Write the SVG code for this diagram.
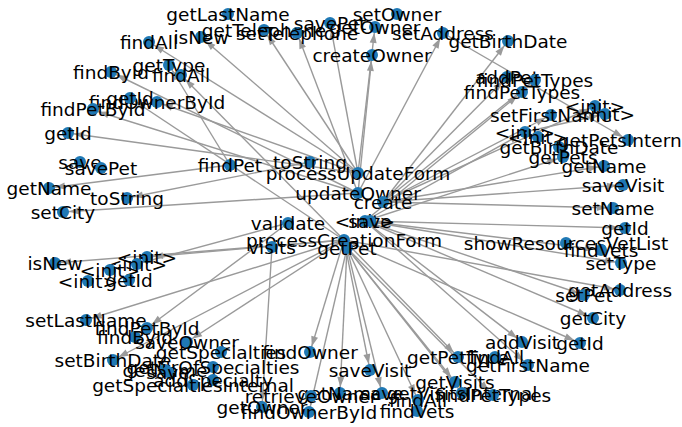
<svg xmlns="http://www.w3.org/2000/svg" width="682" height="427" viewBox="0 0 682 427">
<style>
.e line{stroke:#9a9a9a;stroke-width:1.4;marker-end:url(#ah)}
circle{fill:#1f78b4}
text{font-family:"DejaVu Sans",sans-serif;font-size:18.5px;fill:#000;text-anchor:middle;dominant-baseline:central}
</style>
<defs>
<marker id="ah" markerUnits="userSpaceOnUse" markerWidth="18" markerHeight="8" refX="16" refY="3.5" orient="auto" overflow="visible">
<path d="M0,0 L10,3.5 L0,7 z" fill="#9a9a9a"/>
</marker>
</defs>
<g id="edges" class="e">
<line x1="358" y1="173" x2="201" y2="37"/>
<line x1="358" y1="173" x2="264" y2="30"/>
<line x1="358" y1="173" x2="330" y2="23"/>
<line x1="358" y1="173" x2="375" y2="27"/>
<line x1="358" y1="173" x2="149" y2="42"/>
<line x1="358" y1="173" x2="157" y2="102"/>
<line x1="358" y1="173" x2="68" y2="133"/>
<line x1="358" y1="193" x2="297" y2="33"/>
<line x1="358" y1="193" x2="372" y2="55"/>
<line x1="358" y1="193" x2="443" y2="33"/>
<line x1="358" y1="193" x2="111" y2="72"/>
<line x1="358" y1="193" x2="93" y2="110"/>
<line x1="358" y1="193" x2="63" y2="212"/>
<line x1="383" y1="202" x2="508" y2="41"/>
<line x1="383" y1="202" x2="507" y2="77"/>
<line x1="383" y1="202" x2="535" y2="80"/>
<line x1="383" y1="202" x2="551" y2="115"/>
<line x1="383" y1="202" x2="595" y2="106"/>
<line x1="383" y1="202" x2="604" y2="166"/>
<line x1="383" y1="202" x2="623" y2="185"/>
<line x1="383" y1="202" x2="613" y2="208"/>
<line x1="365" y1="221" x2="522" y2="92"/>
<line x1="365" y1="221" x2="525" y2="132"/>
<line x1="365" y1="221" x2="563" y2="157"/>
<line x1="365" y1="221" x2="625" y2="228"/>
<line x1="365" y1="221" x2="621" y2="263"/>
<line x1="365" y1="221" x2="584" y2="295"/>
<line x1="365" y1="221" x2="593" y2="318"/>
<line x1="365" y1="221" x2="522" y2="342"/>
<line x1="365" y1="221" x2="528" y2="365"/>
<line x1="365" y1="221" x2="601" y2="250"/>
<line x1="344" y1="240" x2="181" y2="75"/>
<line x1="344" y1="240" x2="130" y2="98"/>
<line x1="344" y1="240" x2="86" y2="320"/>
<line x1="344" y1="240" x2="113" y2="360"/>
<line x1="344" y1="240" x2="55" y2="263"/>
<line x1="344" y1="240" x2="147" y2="257"/>
<line x1="344" y1="240" x2="310" y2="352"/>
<line x1="344" y1="240" x2="370" y2="370"/>
<line x1="344" y1="240" x2="458" y2="357"/>
<line x1="344" y1="240" x2="580" y2="343"/>
<line x1="344" y1="240" x2="620" y2="290"/>
<line x1="344" y1="240" x2="187" y2="342"/>
<line x1="347" y1="248" x2="340" y2="393"/>
<line x1="347" y1="248" x2="382" y2="393"/>
<line x1="347" y1="248" x2="418" y2="400"/>
<line x1="347" y1="248" x2="455" y2="382"/>
<line x1="347" y1="248" x2="493" y2="395"/>
<line x1="347" y1="248" x2="309" y2="412"/>
<line x1="347" y1="248" x2="462" y2="393"/>
<line x1="230" y1="165" x2="49" y2="188"/>
<line x1="230" y1="165" x2="169" y2="65"/>
<line x1="288" y1="223" x2="137" y2="264"/>
<line x1="288" y1="223" x2="147" y2="328"/>
<line x1="272" y1="247" x2="262" y2="407"/>
<line x1="310" y1="162" x2="127" y2="198"/>
<line x1="443" y1="33" x2="628" y2="140"/>
<line x1="525" y1="132" x2="605" y2="114"/>
</g>
<g id="n1"><circle cx="228" cy="14" r="6"/><text x="228" y="14">getLastName</text></g>
<g id="n2"><circle cx="201" cy="37" r="6"/><text x="201" y="37">isNew</text></g>
<g id="n3"><circle cx="264" cy="30" r="6"/><text x="264" y="30">getTelephone</text></g>
<g id="n4"><circle cx="297" cy="33" r="6"/><text x="297" y="33">setTelephone</text></g>
<g id="n5"><circle cx="330" cy="23" r="6"/><text x="330" y="23">savePet</text></g>
<g id="n6"><circle cx="375" cy="27" r="6"/><text x="375" y="27">getOwner</text></g>
<g id="n7"><circle cx="397" cy="14" r="6"/><text x="397" y="14">setOwner</text></g>
<g id="n8"><circle cx="372" cy="55" r="6"/><text x="372" y="55">createOwner</text></g>
<g id="n9"><circle cx="443" cy="33" r="6"/><text x="443" y="33">setAddress</text></g>
<g id="n10"><circle cx="508" cy="41" r="6"/><text x="508" y="41">getBirthDate</text></g>
<g id="n11"><circle cx="507" cy="77" r="6"/><text x="507" y="77">addPet</text></g>
<g id="n12"><circle cx="535" cy="80" r="6"/><text x="535" y="80">findPetTypes</text></g>
<g id="n13"><circle cx="522" cy="92" r="6"/><text x="522" y="92">findPetTypes</text></g>
<g id="n14"><circle cx="551" cy="115" r="6"/><text x="551" y="115">setFirstName</text></g>
<g id="n15"><circle cx="595" cy="106" r="6"/><text x="595" y="106">&lt;init&gt;</text></g>
<g id="n16"><circle cx="605" cy="114" r="6"/><text x="605" y="114">&lt;init&gt;</text></g>
<g id="n17"><circle cx="525" cy="132" r="6"/><text x="525" y="132">&lt;init&gt;</text></g>
<g id="n18"><circle cx="538" cy="137" r="6"/><text x="538" y="137">&lt;init&gt;</text></g>
<g id="n19"><circle cx="559" cy="147" r="6"/><text x="559" y="147">getBirthDate</text></g>
<g id="n20"><circle cx="628" cy="140" r="6"/><text x="628" y="140">getPetsInternal</text></g>
<g id="n21"><circle cx="563" cy="157" r="6"/><text x="563" y="157">getPets</text></g>
<g id="n22"><circle cx="604" cy="166" r="6"/><text x="604" y="166">getName</text></g>
<g id="n23"><circle cx="623" cy="185" r="6"/><text x="623" y="185">saveVisit</text></g>
<g id="n24"><circle cx="613" cy="208" r="6"/><text x="613" y="208">setName</text></g>
<g id="n25"><circle cx="625" cy="228" r="6"/><text x="625" y="228">getId</text></g>
<g id="n26"><circle cx="566" cy="243" r="6"/><text x="566" y="243">showResourcesVetList</text></g>
<g id="n27"><circle cx="601" cy="250" r="6"/><text x="601" y="250">findVets</text></g>
<g id="n28"><circle cx="621" cy="263" r="6"/><text x="621" y="263">setType</text></g>
<g id="n29"><circle cx="620" cy="290" r="6"/><text x="620" y="290">getAddress</text></g>
<g id="n30"><circle cx="584" cy="295" r="6"/><text x="584" y="295">setPet</text></g>
<g id="n31"><circle cx="593" cy="318" r="6"/><text x="593" y="318">getCity</text></g>
<g id="n32"><circle cx="580" cy="343" r="6"/><text x="580" y="343">getId</text></g>
<g id="n33"><circle cx="522" cy="342" r="6"/><text x="522" y="342">addVisit</text></g>
<g id="n34"><circle cx="528" cy="365" r="6"/><text x="528" y="365">getFirstName</text></g>
<g id="n35"><circle cx="458" cy="357" r="6"/><text x="458" y="357">getPetType</text></g>
<g id="n36"><circle cx="495" cy="357" r="6"/><text x="495" y="357">findAll</text></g>
<g id="n37"><circle cx="455" cy="382" r="6"/><text x="455" y="382">getVisits</text></g>
<g id="n38"><circle cx="462" cy="393" r="6"/><text x="462" y="393">getVisitsInternal</text></g>
<g id="n39"><circle cx="493" cy="395" r="6"/><text x="493" y="395">findPetTypes</text></g>
<g id="n40"><circle cx="418" cy="400" r="6"/><text x="418" y="400">findAll</text></g>
<g id="n41"><circle cx="417" cy="411" r="6"/><text x="417" y="411">findVets</text></g>
<g id="n42"><circle cx="370" cy="370" r="6"/><text x="370" y="370">saveVisit</text></g>
<g id="n43"><circle cx="310" cy="352" r="6"/><text x="310" y="352">findOwner</text></g>
<g id="n44"><circle cx="340" cy="393" r="6"/><text x="340" y="393">getName</text></g>
<g id="n45"><circle cx="382" cy="393" r="6"/><text x="382" y="393">save</text></g>
<g id="n46"><circle cx="311" cy="396" r="6"/><text x="311" y="396">retrieveOwner</text></g>
<g id="n47"><circle cx="262" cy="407" r="6"/><text x="262" y="407">getOwner</text></g>
<g id="n48"><circle cx="309" cy="412" r="6"/><text x="309" y="412">findOwnerById</text></g>
<g id="n49"><circle cx="86" cy="320" r="6"/><text x="86" y="320">setLastName</text></g>
<g id="n50"><circle cx="147" cy="328" r="6"/><text x="147" y="328">findPetById</text></g>
<g id="n51"><circle cx="135" cy="337" r="6"/><text x="135" y="337">findById</text></g>
<g id="n52"><circle cx="187" cy="342" r="6"/><text x="187" y="342">saveOwner</text></g>
<g id="n53"><circle cx="221" cy="352" r="6"/><text x="221" y="352">getSpecialties</text></g>
<g id="n54"><circle cx="113" cy="360" r="6"/><text x="113" y="360">setBirthDate</text></g>
<g id="n55"><circle cx="213" cy="367" r="6"/><text x="213" y="367">getNrOfSpecialties</text></g>
<g id="n56"><circle cx="165" cy="370" r="6"/><text x="165" y="370">getName</text></g>
<g id="n57"><circle cx="168" cy="372" r="6"/><text x="168" y="372">save</text></g>
<g id="n58"><circle cx="213" cy="380" r="6"/><text x="213" y="380">addSpecialty</text></g>
<g id="n59"><circle cx="193" cy="385" r="6"/><text x="193" y="385">getSpecialtiesInternal</text></g>
<g id="n60"><circle cx="55" cy="263" r="6"/><text x="55" y="263">isNew</text></g>
<g id="n61"><circle cx="147" cy="257" r="6"/><text x="147" y="257">&lt;init&gt;</text></g>
<g id="n62"><circle cx="137" cy="264" r="6"/><text x="137" y="264">&lt;init&gt;</text></g>
<g id="n63"><circle cx="110" cy="270" r="6"/><text x="110" y="270">&lt;init&gt;</text></g>
<g id="n64"><circle cx="88" cy="281" r="6"/><text x="88" y="281">&lt;init&gt;</text></g>
<g id="n65"><circle cx="129" cy="280" r="6"/><text x="129" y="280">getId</text></g>
<g id="n66"><circle cx="68" cy="133" r="6"/><text x="68" y="133">getId</text></g>
<g id="n67"><circle cx="80" cy="162" r="6"/><text x="80" y="162">save</text></g>
<g id="n68"><circle cx="101" cy="168" r="6"/><text x="101" y="168">savePet</text></g>
<g id="n69"><circle cx="49" cy="188" r="6"/><text x="49" y="188">getName</text></g>
<g id="n70"><circle cx="127" cy="198" r="6"/><text x="127" y="198">toString</text></g>
<g id="n71"><circle cx="63" cy="212" r="6"/><text x="63" y="212">setCity</text></g>
<g id="n72"><circle cx="149" cy="42" r="6"/><text x="149" y="42">findAll</text></g>
<g id="n73"><circle cx="169" cy="65" r="6"/><text x="169" y="65">getType</text></g>
<g id="n74"><circle cx="111" cy="72" r="6"/><text x="111" y="72">findById</text></g>
<g id="n75"><circle cx="181" cy="75" r="6"/><text x="181" y="75">findAll</text></g>
<g id="n76"><circle cx="157" cy="102" r="6"/><text x="157" y="102">findOwnerById</text></g>
<g id="n77"><circle cx="130" cy="98" r="6"/><text x="130" y="98">getId</text></g>
<g id="n78"><circle cx="93" cy="109" r="6"/><text x="93" y="109">findPetById</text></g>
<g id="n79"><circle cx="230" cy="165" r="6"/><text x="230" y="165">findPet</text></g>
<g id="n80"><circle cx="310" cy="162" r="6"/><text x="310" y="162">toString</text></g>
<g id="n81"><circle cx="358" cy="173" r="6"/><text x="358" y="173">processUpdateForm</text></g>
<g id="n82"><circle cx="358" cy="193" r="6"/><text x="358" y="193">updateOwner</text></g>
<g id="n83"><circle cx="383" cy="202" r="6"/><text x="383" y="202">create</text></g>
<g id="n84"><circle cx="365" cy="221" r="6"/><text x="365" y="221">&lt;init&gt;</text></g>
<g id="n85"><circle cx="370" cy="221" r="6"/><text x="370" y="221">save</text></g>
<g id="n86"><circle cx="288" cy="223" r="6"/><text x="288" y="223">validate</text></g>
<g id="n87"><circle cx="344" cy="240" r="6"/><text x="344" y="240">processCreationForm</text></g>
<g id="n88"><circle cx="272" cy="247" r="6"/><text x="272" y="247">visits</text></g>
<g id="n89"><circle cx="347" cy="248" r="6"/><text x="347" y="248">getPet</text></g>
</svg>
